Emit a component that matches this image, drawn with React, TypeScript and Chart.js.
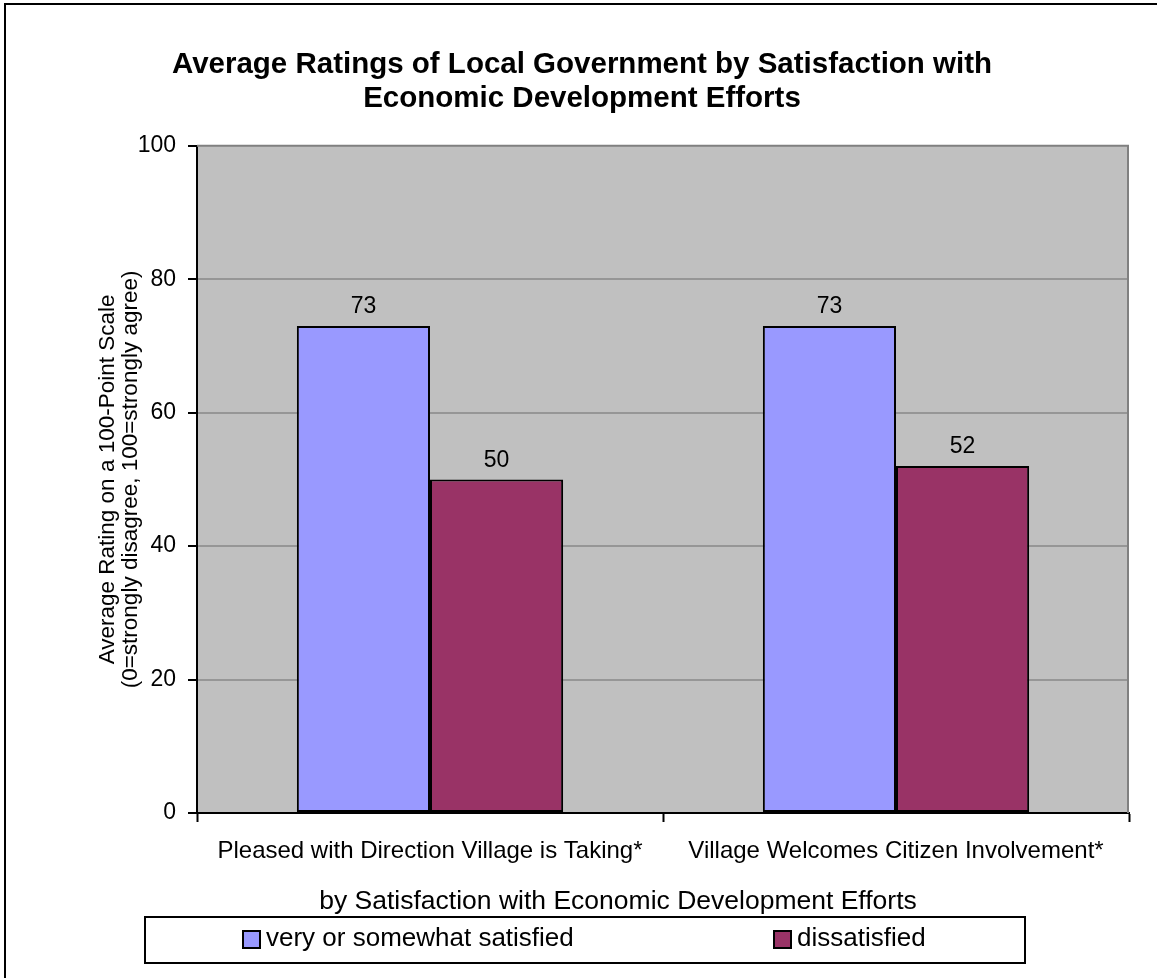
import React, { useEffect, useRef } from "react";
import { Chart, registerables } from "chart.js";

Chart.register(...registerables);

// ---------- data ----------
const categories = [
  "Pleased with Direction Village is Taking*",
  "Village Welcomes Citizen Involvement*",
];
const seriesLabels = ["very or somewhat satisfied", "dissatisfied"];
const satisfiedValues = [73, 73];
const dissatisfiedValues = [50, 52];
const yTickValues = [0, 20, 40, 60, 80, 100];
const titleLines = [
  "Average Ratings of Local Government by Satisfaction with",
  "Economic Development Efforts",
];
const yTitleLines = [
  "Average Rating on a 100-Point Scale",
  "(0=strongly disagree, 100=strongly agree)",
];
const xTitleText = "by Satisfaction with Economic Development Efforts";
const seriesColors = ["#9999FF", "#993366"];

const FONT = "'Liberation Sans', Arial, Helvetica, sans-serif";

const decorPlugin = {
  id: "decor",
  beforeDraw(chart: any) {
    const { ctx, chartArea: a } = chart;
    ctx.save();
    ctx.fillStyle = "#C0C0C0";
    ctx.fillRect(a.left, a.top, a.right - a.left, a.bottom - a.top);
    // outer chart border (clipped on right / bottom as in the reference)
    ctx.strokeStyle = "#000";
    ctx.lineWidth = 2;
    ctx.strokeRect(5, 4, chart.width + 40, chart.height + 40);
    ctx.restore();
  },
  beforeDatasetsDraw(chart: any) {
    const { ctx, chartArea: a } = chart;
    ctx.save();
    ctx.strokeStyle = "#808080";
    ctx.lineWidth = 2;
    ctx.beginPath();
    ctx.moveTo(a.left, a.top);
    ctx.lineTo(a.right - 1, a.top);
    ctx.lineTo(a.right - 1, a.bottom);
    ctx.stroke();
    ctx.restore();
  },
  afterDatasetsDraw(chart: any) {
    const { ctx } = chart;
    ctx.save();
    ctx.fillStyle = "#000";
    ctx.font = `23px ${FONT}`;
    ctx.textAlign = "center";
    ctx.textBaseline = "middle";
    chart.data.datasets.forEach((ds: any, i: number) => {
      const meta = chart.getDatasetMeta(i);
      meta.data.forEach((bar: any, j: number) => {
        ctx.fillText(String(ds.data[j]), bar.x, bar.y - 19);
      });
    });
    ctx.restore();
  },
  afterDraw(chart: any) {
    const { ctx } = chart;
    ctx.save();
    ctx.fillStyle = "#000";
    ctx.font = `26.5px ${FONT}`;
    ctx.textAlign = "center";
    ctx.textBaseline = "alphabetic";
    ctx.fillText(xTitleText, 618, 909);

    // legend box
    ctx.strokeStyle = "#000";
    ctx.lineWidth = 2;
    ctx.strokeRect(145, 917, 880, 46);
    const itemX = [243, 774];
    ctx.font = `26px ${FONT}`;
    ctx.textAlign = "left";
    chart.data.datasets.forEach((ds: any, i: number) => {
      const x = itemX[i];
      ctx.fillStyle = ds.backgroundColor;
      ctx.fillRect(x, 931, 17, 17);
      ctx.strokeStyle = "#000";
      ctx.lineWidth = 2;
      ctx.strokeRect(x, 931, 17, 17);
      ctx.fillStyle = "#000";
      ctx.fillText(ds.label, x + 23, 946);
    });
    ctx.restore();
  },
};

export default function App() {
  const ref = useRef<HTMLCanvasElement | null>(null);

  useEffect(() => {
    document.body.style.margin = "0";
    const canvas = ref.current;
    if (!canvas) return;
    const chart = new Chart(canvas, {
      type: "bar",
      data: {
        labels: categories,
        datasets: [
          {
            label: seriesLabels[0],
            data: satisfiedValues,
            backgroundColor: seriesColors[0],
            borderColor: "#000",
            borderWidth: 2,
            borderSkipped: false,
            categoryPercentage: 2 / 3.5,
            barPercentage: 1,
          },
          {
            label: seriesLabels[1],
            data: dissatisfiedValues,
            backgroundColor: seriesColors[1],
            borderColor: "#000",
            borderWidth: 2,
            borderSkipped: false,
            categoryPercentage: 2 / 3.5,
            barPercentage: 1,
          },
        ],
      },
      options: {
        responsive: false,
        animation: false,
        devicePixelRatio: 1,
        layout: { padding: { left: 35, right: 28, top: 0, bottom: 108 } },
        plugins: {
          legend: { display: false },
          tooltip: { enabled: false },
          title: {
            display: true,
            text: titleLines,
            color: "#000",
            font: { family: FONT, size: 29.5, weight: "bold", lineHeight: 1.15 },
            padding: { top: 47.5, bottom: 30.5 },
          },
        },
        scales: {
          x: {
            grid: {
              offset: true,
              drawOnChartArea: false,
              drawTicks: true,
              tickLength: 9,
              tickColor: "#000",
              tickWidth: 2,
            },
            border: { color: "#000", width: 2 },
            ticks: {
              color: "#000",
              font: { family: FONT, size: 24 },
              padding: 15,
              maxRotation: 0,
              autoSkip: false,
            },
            afterFit(scale: any) {
              scale.height = 57;
            },
          },
          y: {
            min: 0,
            max: 100,
            afterBuildTicks(scale: any) {
              scale.ticks = yTickValues.map((v) => ({ value: v }));
            },
            grid: {
              color: (c: any) => (c.tick && (c.tick.value === 0 || c.tick.value === 100) ? "rgba(0,0,0,0)" : "#969696"),
              lineWidth: 2,
              drawTicks: true,
              tickLength: 9,
              tickColor: "#000",
              tickWidth: 2,
            },
            border: { color: "#000", width: 2 },
            ticks: {
              color: "#000",
              font: { family: FONT, size: 23 },
              padding: 12,
            },
            title: {
              display: true,
              text: yTitleLines,
              color: "#000",
              font: { family: FONT, size: 22.5, lineHeight: 1.0 },
              padding: { top: 61.75, bottom: 0 },
            },
            afterFit(scale: any) {
              scale.width = 162;
            },
          },
        },
      },
      plugins: [decorPlugin],
    });
    return () => chart.destroy();
  }, []);

  return <canvas ref={ref} width={1157} height={978} style={{ display: "block" }} />;
}
